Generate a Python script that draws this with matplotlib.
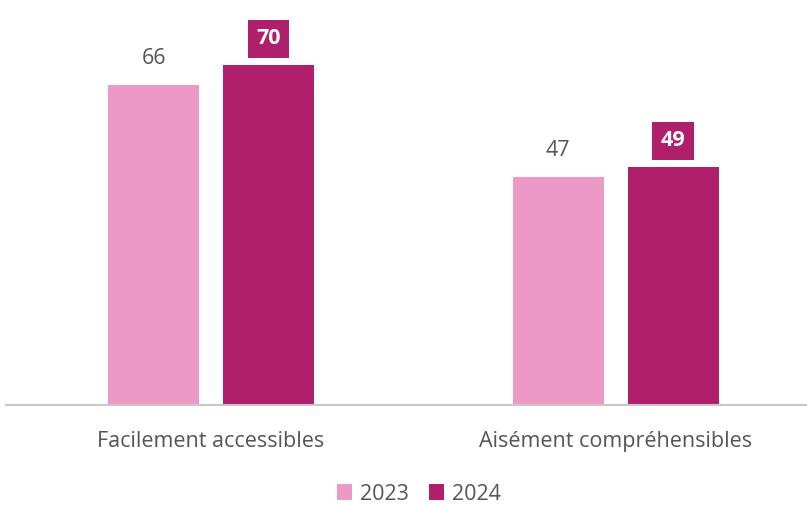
import matplotlib
matplotlib.use("Agg")
import matplotlib.pyplot as plt
import numpy as np

plt.rcParams['font.family'] = ['Open Sans', 'DejaVu Sans']

categories = ["Facilement accessibles", "Aisément compréhensibles"]
series_names = ["2023", "2024"]
values_2023 = [66, 47]
values_2024 = [70, 49]

c23 = "#ED99C7"
c24 = "#B01F6B"
txt = "#555555"

fig = plt.figure(figsize=(8.07, 5.05), dpi=100)
ax = fig.add_axes([6/807, 100/505, 801/807, 388/505])

x = np.arange(len(categories))
w = 0.225
off = 0.142
b1 = ax.bar(x - off, values_2023, w, color=c23, label=series_names[0])
b2 = ax.bar(x + off, values_2024, w, color=c24, label=series_names[1])

for xi, v in zip(x, values_2023):
    ax.text(xi - off, v + 5.5, f"{v}", ha="center", va="center", fontsize=15.5, color=txt)
for xi, v in zip(x, values_2024):
    ax.text(xi + off, v + 5.5, f"{v}", ha="center", va="center", fontsize=15.5,
            color="white", fontweight="bold",
            bbox=dict(boxstyle="square,pad=0.4", fc=c24, ec="none"))

ax.set_xlim(-0.507, 1.473)
ax.set_ylim(0, 80)
ax.set_xticks(x)
ax.set_xticklabels(categories, fontsize=15.5, color=txt)
ax.tick_params(axis="x", length=0, pad=19)
ax.set_yticks([])
for s in ["top", "left", "right"]:
    ax.spines[s].set_visible(False)
ax.spines["bottom"].set_color("#C8C8C8")
ax.spines["bottom"].set_linewidth(1.5)

leg = fig.legend(handles=[b1, b2], labels=series_names, loc="center",
                 bbox_to_anchor=(419/807, 1 - 494/505), ncol=2, frameon=False,
                 fontsize=15.5, handlelength=0.7, handleheight=0.7,
                 handletextpad=0.4, columnspacing=0.9)
for t in leg.get_texts():
    t.set_color(txt)

fig.savefig("out.png", dpi=100)
